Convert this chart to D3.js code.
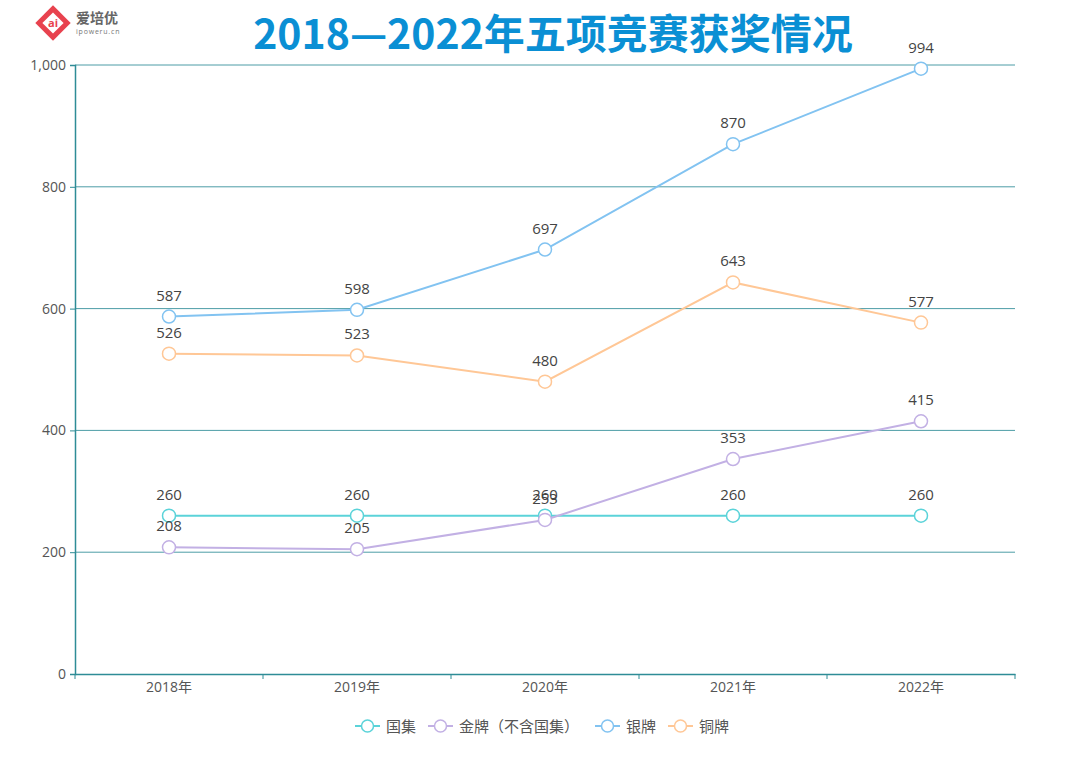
<!DOCTYPE html>
<html><head><meta charset="utf-8">
<script src="https://cdn.jsdelivr.net/npm/d3@7/dist/d3.min.js"></script>
<style>body{margin:0;background:#fff;}svg{display:block;}</style>
</head><body><svg id="c" width="1080" height="763"></svg>
<script>
const years = ["2018年","2019年","2020年","2021年","2022年"];
const seriesNames = ["国集","金牌（不含国集）","银牌","铜牌"];
const guoji = [260,260,260,260,260];
const jinpai = [208,205,253,353,415];
const yinpai = [587,598,697,870,994];
const tongpai = [526,523,480,643,577];
const yTicks = [0,200,400,600,800,1000];
const colors = ["#5bd3d9","#c2b0e4","#82c3f1","#ffc796"];
const seriesData = [guoji, jinpai, yinpai, tongpai];

const svg = d3.select("#c");
const font = "'Open Sans','Noto Sans CJK SC',sans-serif";
const m = {l:75, r:1015, t:65, b:674};
const x = d3.scaleBand().domain(years).range([m.l, m.r]);
const y = d3.scaleLinear().domain([0,1000]).range([m.b, m.t]);
const axisColor = "#2e8c96";

// logo
const lg = svg.append("g").attr("transform","translate(53,23)");
lg.append("rect").attr("x",-12.5).attr("y",-12.5).attr("width",25).attr("height",25)
  .attr("transform","rotate(45)").attr("fill","#e8424e");
lg.append("rect").attr("x",-7.5).attr("y",-7.5).attr("width",15).attr("height",15)
  .attr("transform","rotate(45)").attr("fill","#fff");
lg.append("text").attr("x",0).attr("y",4).attr("text-anchor","middle").attr("font-size",11)
  .attr("font-weight","bold").attr("fill","#e8424e").attr("font-family",font).text("ai");
svg.append("text").attr("x",76).attr("y",23).attr("font-size",14).attr("font-weight","bold")
  .attr("fill","#666").attr("font-family","'Noto Sans CJK SC',sans-serif").text("爱培优");
svg.append("text").attr("x",76).attr("y",34).attr("font-size",7).attr("letter-spacing",0.8)
  .attr("fill","#777").attr("font-family",font).text("ipoweru.cn");

// title
svg.append("text").attr("x",553).attr("y",49).attr("text-anchor","middle")
  .attr("font-size",41).attr("font-weight","bold").attr("fill","#0a8fd4")
  .attr("font-family","'Noto Sans CJK SC',sans-serif").text("2018—2022年五项竞赛获奖情况");

// grid
svg.append("g").selectAll("line").data(yTicks.filter(d=>d>0)).join("line")
  .attr("x1",m.l).attr("x2",m.r).attr("y1",d=>y(d)).attr("y2",d=>y(d))
  .attr("stroke",axisColor).attr("stroke-opacity",0.85).attr("stroke-width",1);

// y axis
const ya = svg.append("g").attr("transform",`translate(${m.l},0)`)
  .call(d3.axisLeft(y).tickValues(yTicks).tickSize(5).tickPadding(4).tickFormat(d3.format(",")));
ya.select(".domain").attr("stroke",axisColor).attr("stroke-width",1.5);
ya.selectAll(".tick line").attr("stroke",axisColor);
ya.selectAll("text").attr("font-size",14).attr("fill","#555").attr("font-family",font);

// x axis
const xa = svg.append("g").attr("transform",`translate(0,${m.b})`)
  .call(d3.axisBottom(x).tickSize(0).tickPadding(8));
xa.select(".domain").attr("stroke",axisColor).attr("stroke-width",1.5);
xa.selectAll("text").attr("font-size",14).attr("fill","#555").attr("font-family",font);
const bounds = years.map(d=>x(d)).concat([m.r]);
xa.append("g").selectAll("line").data(bounds).join("line")
  .attr("x1",d=>d).attr("x2",d=>d).attr("y1",0).attr("y2",5).attr("stroke",axisColor);

const cx = d => x(d) + x.bandwidth()/2;
const line = d3.line().x((v,i)=>cx(years[i])).y(v=>y(v));

seriesData.forEach((arr,si)=>{
  const g = svg.append("g");
  g.append("path").datum(arr).attr("d",line).attr("fill","none")
    .attr("stroke",colors[si]).attr("stroke-width",2);
  g.selectAll("circle").data(arr).join("circle")
    .attr("cx",(v,i)=>cx(years[i])).attr("cy",v=>y(v)).attr("r",6.5)
    .attr("fill","#fff").attr("stroke",colors[si]).attr("stroke-width",1.5);
});
seriesData.forEach((arr,si)=>{
  svg.append("g").selectAll("text").data(arr).join("text")
    .attr("x",(v,i)=>cx(years[i])).attr("y",v=>y(v)-16).attr("text-anchor","middle")
    .attr("font-size",15).attr("fill","#444").attr("font-family",font).text(v=>v);
});

// legend
const legX = [355, 428, 595, 668];
const lgd = svg.append("g");
seriesNames.forEach((n,i)=>{
  const g = lgd.append("g").attr("transform",`translate(${legX[i]},726)`);
  g.append("line").attr("x1",0).attr("x2",25).attr("y1",0).attr("y2",0)
    .attr("stroke",colors[i]).attr("stroke-width",2);
  g.append("circle").attr("cx",12.5).attr("cy",0).attr("r",6)
    .attr("fill","#fff").attr("stroke",colors[i]).attr("stroke-width",1.5);
  g.append("text").attr("x",31).attr("y",5.5).attr("font-size",15).attr("fill","#555")
    .attr("font-family","'Noto Sans CJK SC',sans-serif").text(n);
});
</script></body></html>
